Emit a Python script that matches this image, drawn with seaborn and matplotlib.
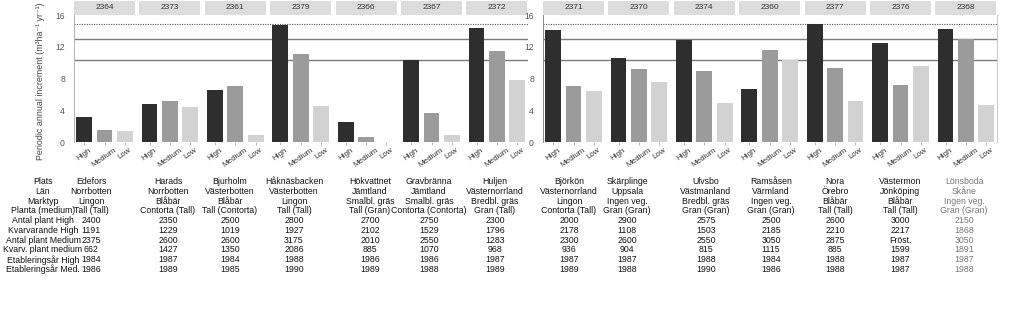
import matplotlib
matplotlib.use("Agg")
import matplotlib.pyplot as plt
import seaborn as sns
import pandas as pd

# ---------------- data ----------------
site_ids_left = ["2364", "2373", "2361", "2379", "2366", "2367", "2372"]
site_ids_right = ["2371", "2370", "2374", "2360", "2377", "2376", "2368"]
levels = ["High", "Medium", "Low"]

high = [3.2, 4.8, 6.6, 14.7, 2.6, 10.3, 14.4, 14.1, 10.6, 12.8, 6.7, 14.9, 12.5, 14.25]
medium = [1.55, 5.15, 7.1, 11.1, 0.65, 3.65, 11.5, 7.05, 9.25, 8.9, 11.6, 9.3, 7.2, 13.0]
low = [1.4, 4.45, 0.9, 4.5, 0.0, 0.9, 7.85, 6.5, 7.6, 4.95, 10.3, 5.25, 9.65, 4.65]

ref_dotted = 14.9
ref_solid = [13.0, 10.35]

row_labels = ["Plats", "Län", "Marktyp", "Planta (medium)", "Antal plant High",
              "Kvarvarande High", "Antal plant Medium", "Kvarv. plant medium",
              "Etableringsår High", "Etableringsår Med."]
plats = ["Edefors", "Harads", "Bjurholm", "Håknäsbacken", "Hökvattnet", "Gravbränna", "Huljen",
         "Björkön", "Skärplinge", "Ulvsbo", "Ramsåsen", "Nora", "Västermon", "Lönsboda"]
lan = ["Norrbotten", "Norrbotten", "Västerbotten", "Västerbotten", "Jämtland", "Jämtland",
       "Västernorrland", "Västernorrland", "Uppsala", "Västmanland", "Värmland", "Örebro",
       "Jönköping", "Skåne"]
marktyp = ["Lingon", "Blåbär", "Blåbär", "Lingon", "Smalbl. gräs", "Smalbl. gräs", "Bredbl. gräs",
           "Lingon", "Ingen veg.", "Bredbl. gräs", "Ingen veg.", "Blåbär", "Blåbär", "Ingen veg."]
planta = ["Tall (Tall)", "Contorta (Tall)", "Tall (Contorta)", "Tall (Tall)", "Tall (Gran)",
          "Contorta (Contorta)", "Gran (Tall)", "Contorta (Tall)", "Gran (Gran)", "Gran (Gran)",
          "Gran (Gran)", "Tall (Tall)", "Tall (Tall)", "Gran (Gran)"]
antal_high = ["2400", "2350", "2500", "2800", "2700", "2750", "2300", "2000", "2900", "2575",
              "2500", "2600", "3000", "2150"]
kvar_high = ["1191", "1229", "1019", "1927", "2102", "1529", "1796", "2178", "1108", "1503",
             "2185", "2210", "2217", "1868"]
antal_med = ["2375", "2600", "2600", "3175", "2010", "2550", "1283", "2300", "2600", "2550",
             "3050", "2875", "Fröst.", "3050"]
kvar_med = ["662", "1427", "1350", "2086", "885", "1070", "968", "936", "904", "815",
            "1115", "885", "1599", "1891"]
etab_high = ["1984", "1987", "1984", "1988", "1986", "1986", "1987", "1987", "1987", "1988",
             "1984", "1988", "1987", "1987"]
etab_med = ["1986", "1989", "1985", "1990", "1989", "1988", "1989", "1989", "1988", "1990",
            "1986", "1988", "1987", "1988"]

# ---------------- style ----------------
sns.set_theme(style="white")
plt.rcParams["font.family"] = ["Liberation Sans", "DejaVu Sans"]

W, H = 1024, 328
fig = plt.figure(figsize=(W / 100, H / 100), dpi=100)


def rect(x0, y0, x1, y1):
    return [x0 / W, 1 - y1 / H, (x1 - x0) / W, (y1 - y0) / H]


palette = {"High": "#2e2e2e", "Medium": "#9b9b9b", "Low": "#d2d2d2"}
YMAX = 16.05
Y0_PX, YT_PX = 142.3, 142.3 - YMAX * 7.956
tick_col = "#555555"

groups = [(site_ids_left, 74, 527.5, 0, False), (site_ids_right, 543, 997, 7, True)]
pitch, fw = 65.4, 61

for ids, gx0, gx1, offset, right_spine in groups:
    bg = fig.add_axes(rect(gx0, YT_PX, gx1, Y0_PX))
    bg.set_xlim(0, 1)
    bg.set_ylim(0, YMAX)
    bg.set_facecolor("none")
    bg.axhline(ref_dotted, color="#555555", lw=0.8, ls=(0, (1, 1.2)))
    for v in ref_solid:
        bg.axhline(v, color="#7a7a7a", lw=1.0)
    bg.set_xticks([])
    bg.set_yticks([0, 4, 8, 12, 16])
    bg.tick_params(axis="y", labelsize=6.2, colors=tick_col, length=2.5, width=0.6, pad=4)
    for s in ["top", "bottom"]:
        bg.spines[s].set_visible(False)
    bg.spines["left"].set_color("#b0b0b0" if offset == 0 else "#8a8a8a")
    bg.spines["left"].set_linewidth(0.7)
    bg.spines["right"].set_visible(right_spine)
    bg.spines["right"].set_color("#c8c8c8")
    bg.spines["right"].set_linewidth(0.7)

    for i, sid in enumerate(ids):
        k = offset + i
        x0 = gx0 + i * pitch
        ax = fig.add_axes(rect(x0, YT_PX, x0 + fw, Y0_PX))
        df = pd.DataFrame({"level": levels, "value": [high[k], medium[k], low[k]]})
        sns.barplot(data=df, x="level", y="value", hue="level", order=levels,
                    palette=palette, width=0.78, legend=False, ax=ax,
                    edgecolor="none", saturation=1)
        ax.set_xlim(-0.5, 2.5)
        ax.set_ylim(0, YMAX)
        ax.set_facecolor("none")
        for s in ax.spines.values():
            s.set_visible(False)
        ax.set_yticks([])
        ax.set_xlabel("")
        ax.set_ylabel("")
        ax.tick_params(axis="x", bottom=True, length=2, width=0.5, colors="#999999",
                       labelsize=5.8, labelcolor="#333333", pad=1)
        for lab in ax.get_xticklabels():
            lab.set_rotation(35)
            lab.set_ha("center")
            lab.set_va("top")
        # strip header
        hx = fig.add_axes(rect(x0, 1, x0 + fw, 14.5))
        hx.set_facecolor("#dcdcdc")
        hx.set_xticks([])
        hx.set_yticks([])
        for s in hx.spines.values():
            s.set_visible(False)
        hx.text(0.5, 0.5, sid, ha="center", va="center", fontsize=6.0, color="#333333",
                transform=hx.transAxes)

fig.text(41 / W, 1 - 81 / H, "Periodic annual increment (m³ha⁻¹ yr⁻¹)",
         rotation=90, ha="center", va="center", fontsize=6.4, color="#444444")

# ---------------- table ----------------
columns = [plats, lan, marktyp, planta, antal_high, kvar_high, antal_med, kvar_med,
           etab_high, etab_med]
col_x = [91, 168, 230, 294, 370, 429, 495, 569, 627, 706, 771, 835, 900, 964]
row_y0, row_dy = 181.7, 9.75
for r, lab in enumerate(row_labels):
    y = 1 - (row_y0 + r * row_dy) / H
    fig.text(43 / W, y, lab, ha="center", va="center", fontsize=6.3, color="#111111")
    for c, xpx in enumerate(col_x):
        col = "#777777" if c == len(col_x) - 1 else "#111111"
        fig.text(xpx / W, y, columns[r][c], ha="center", va="center", fontsize=6.3, color=col)

fig.savefig("out.png", dpi=100, facecolor="white")
